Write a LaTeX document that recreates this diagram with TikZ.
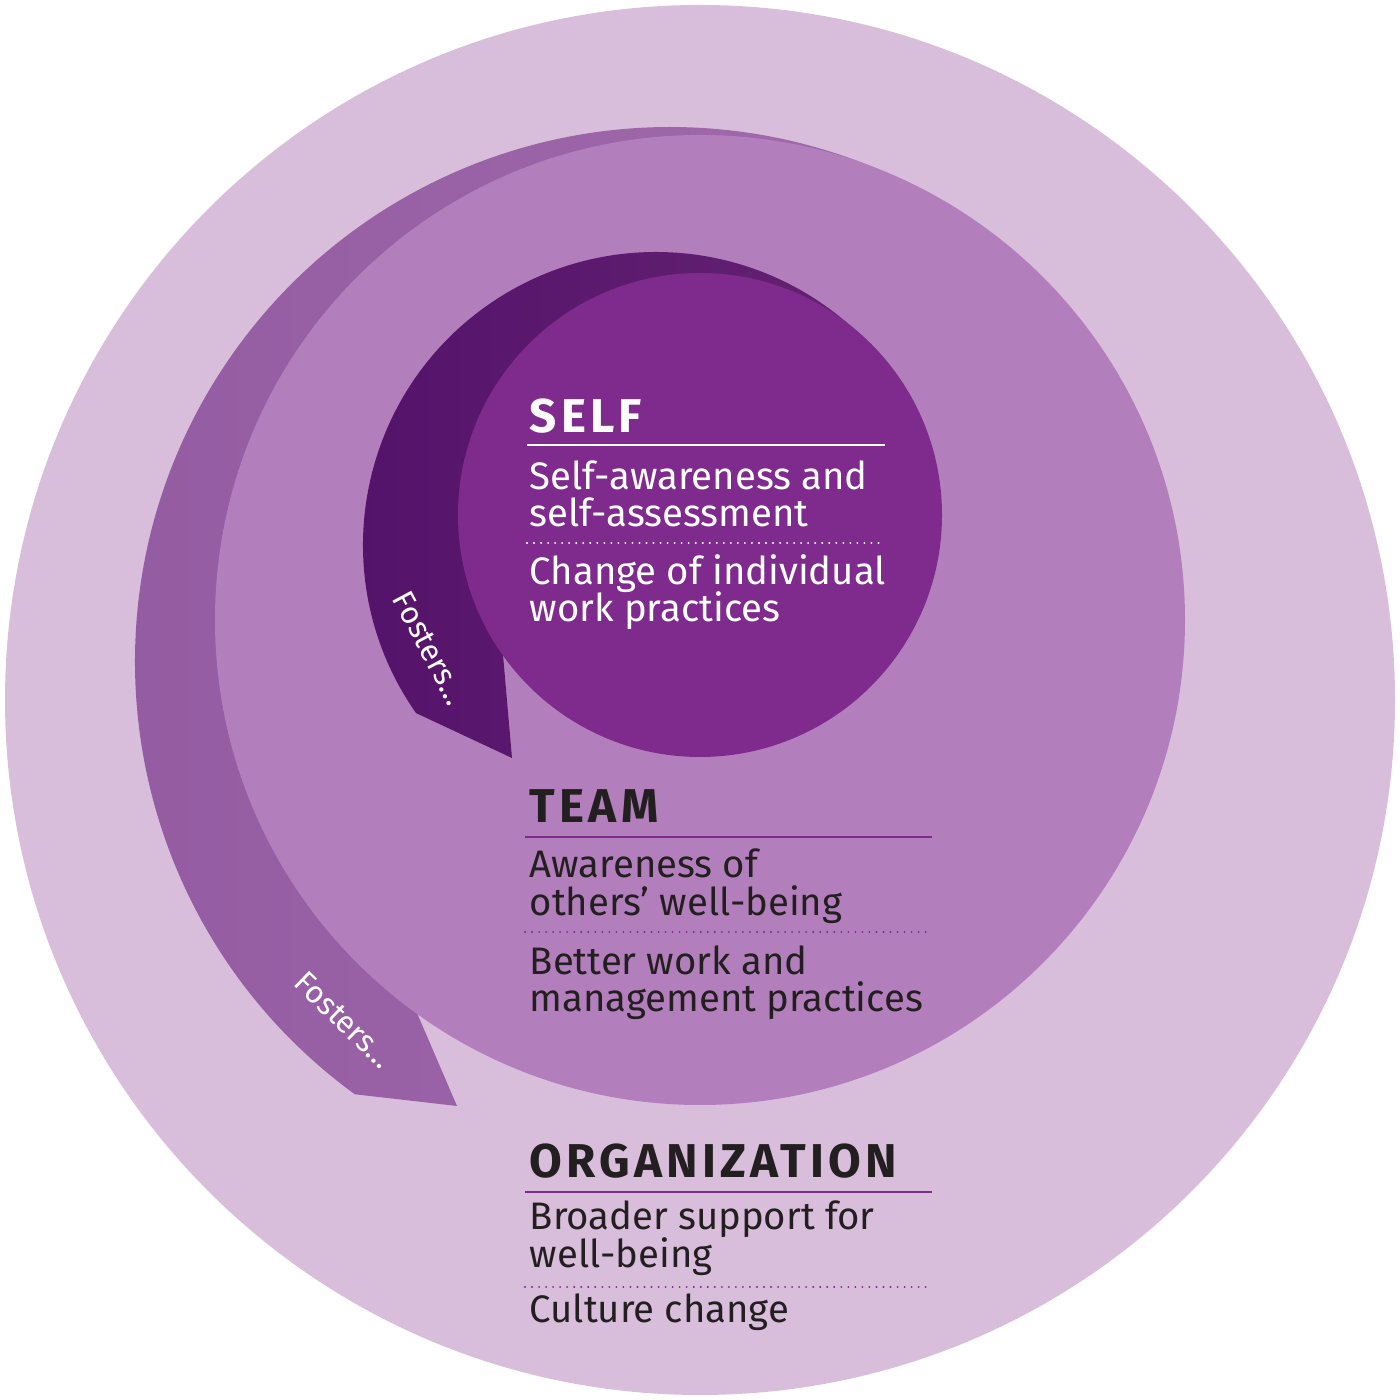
\documentclass[tikz,border=0pt]{standalone}
\usepackage{fontspec}
\setmainfont{Fira Sans}
\newfontfamily\headfont[LetterSpace=9]{Fira Sans}
\usetikzlibrary{calc}

\definecolor{orgLight}{HTML}{D9BEDC}
\definecolor{teamMid}{HTML}{B27FBC}
\definecolor{teamSwooshL}{HTML}{935AA1}
\definecolor{teamSwooshR}{HTML}{A26DAD}
\definecolor{selfDeep}{HTML}{7F2A8D}
\definecolor{selfSwooshL}{HTML}{53126A}
\definecolor{selfSwooshR}{HTML}{652272}
\definecolor{inkDark}{HTML}{231F20}

\tikzset{
	heading/.style={anchor=base west, inner sep=0pt, font=\headfont\bfseries\fontsize{13.5}{14}\selectfont},
	bodytext/.style={anchor=base west, inner sep=0pt, font=\fontsize{10.9}{11}\selectfont},
	fosters/.style={inner sep=0pt, text=white, font=\fontsize{8.8}{9}\selectfont},
	rule/.style={line width=0.6pt},
	dotrule/.style={line width=0.6pt, line cap=round, dash pattern=on 0pt off 2pt}
}

\begin{document}
\begin{tikzpicture}
					\useasboundingbox (0,0) rectangle (14,14);

					% rings and swooshes
					\begin{scope}
						\fill[orgLight] (7,7) circle (6.95);
						\coordinate (midSwooshC) at (6.70,7.38);
						\shade[left color=teamSwooshL, right color=teamSwooshR]
							($(midSwooshC)+(233.9:5.35)$) arc[start angle=233.9, end angle=50, radius=5.35]
							-- (7,7.8) -- (4.17,3.87) -- (4.57,2.94) -- cycle;
						\fill[teamMid] (7,7.8) circle (4.85);
						\coordinate (selfSwooshC) at (6.56,8.55);
						\shade[left color=selfSwooshL, right color=selfSwooshR]
							($(selfSwooshC)+(215:2.93)$) arc[start angle=215, end angle=45, radius=2.93]
							-- (7,8.85) -- (5.03,7.45) -- (5.12,6.42) -- cycle;
						\fill[selfDeep] (7,8.85) circle (2.42);
					\end{scope}

					\node[fosters, rotate=-62] (fostersSelf) at (4.30,7.52) {Fosters…};
					\node[fosters, rotate=-44] (fostersTeam) at (3.44,3.80) {Fosters…};

					% SELF
					\begin{scope}
						\node[heading, text=white] (selfHead) at (5.29,9.67) {SELF};
						\draw[rule, white] (5.27,9.55) -- (8.85,9.55);
						\draw[dotrule, white] (5.27,8.57) -- (8.85,8.57);
						\foreach \txt/\y [count=\n] in {Self-awareness and/9.10, self-assessment/8.73, Change of individual/8.15, work practices/7.78}
						{
							\node[bodytext, text=white] (self\n) at (5.29,\y) {\txt};
						}
					\end{scope}

					% TEAM
					\begin{scope}
						\node[heading, text=inkDark] (teamHead) at (5.29,5.77) {TEAM};
						\draw[rule, selfDeep] (5.25,5.63) -- (9.32,5.63);
						\draw[dotrule, selfDeep] (5.25,4.68) -- (9.32,4.68);
						\foreach \txt/\y [count=\n] in {Awareness of/5.22, others’ well-being/4.84, Better work and/4.25, management practices/3.88}
						{
							\node[bodytext, text=inkDark] (team\n) at (5.29,\y) {\txt};
						}
					\end{scope}

					% ORGANIZATION
					\begin{scope}
						\node[heading, text=inkDark] (orgHead) at (5.29,2.22) {ORGANIZATION};
						\draw[rule, selfDeep] (5.25,2.08) -- (9.32,2.08);
						\draw[dotrule, selfDeep] (5.25,1.13) -- (9.32,1.13);
						\foreach \txt/\y [count=\n] in {Broader support for/1.70, well-being/1.32, Culture change/0.78}
						{
							\node[bodytext, text=inkDark] (org\n) at (5.29,\y) {\txt};
						}
					\end{scope}
				\end{tikzpicture}
\end{document}
